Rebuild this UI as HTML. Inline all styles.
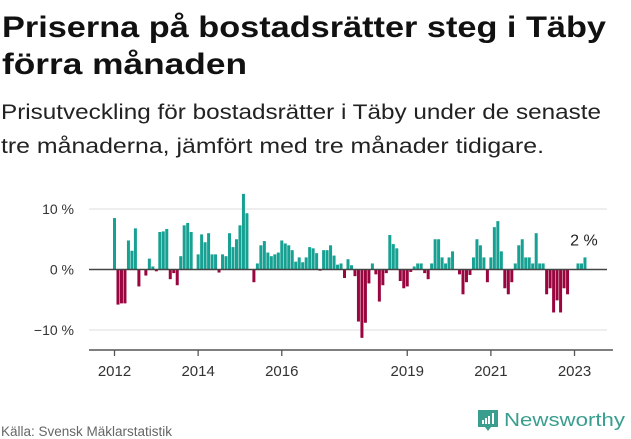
<!DOCTYPE html>
<html><head><meta charset="utf-8"><style>
html,body{margin:0;padding:0;background:#fff;width:631px;height:439px;overflow:hidden}
svg{display:block;font-family:"Liberation Sans","DejaVu Sans",sans-serif}
</style></head><body>
<svg id="chart" width="631" height="439" viewBox="0 0 631 439">
<text x="2" y="37" font-size="30" font-weight="bold" fill="#111" textLength="604" lengthAdjust="spacingAndGlyphs">Priserna på bostadsrätter steg i Täby</text>
<text x="2" y="74" font-size="30" font-weight="bold" fill="#111" textLength="245" lengthAdjust="spacingAndGlyphs">förra månaden</text>
<text x="1" y="119" font-size="21" fill="#222" textLength="600" lengthAdjust="spacingAndGlyphs">Prisutveckling för bostadsrätter i Täby under de senaste</text>
<text x="1" y="153" font-size="21" fill="#222" textLength="543" lengthAdjust="spacingAndGlyphs">tre månaderna, jämfört med tre månader tidigare.</text>
<g id="grid"></g>
<g id="bars"></g>
<g id="axis"></g>
<text x="1" y="436" font-size="13.5" fill="#666">Källa: Svensk Mäklarstatistik</text>
<g>
<path d="M478 410 h20 v17 h-7 l-3 4 l-3 -4 h-7 z" fill="#3a9e8f"/>
<rect x="482" y="420" width="2" height="4" fill="#fff"/><rect x="485" y="418" width="2" height="6" fill="#fff"/><rect x="488" y="416" width="2" height="8" fill="#fff"/><rect x="492" y="413" width="2" height="11" fill="#fff"/>
<text x="504" y="426" font-size="18" fill="#3a9e8f" textLength="121" lengthAdjust="spacingAndGlyphs">Newsworthy</text>
</g>
</svg>
<script>
const values = [8.5,-5.8,-5.6,-5.6,4.8,3.1,6.8,-2.8,0,-1.0,1.8,0.5,-0.3,6.2,6.3,6.7,-1.6,-0.6,-2.6,2.2,7.3,7.7,6.2,0,2.5,5.8,4.5,6,2.5,2.5,-0.5,2.5,2.2,6,3.7,5,7.3,12.5,9.3,0,-2.1,1,4,4.7,2.8,2.2,2.5,2.8,4.8,4.3,4,3.2,1.3,2,1.2,2,3.7,3.5,2.7,-0.2,3.2,3.2,4,2.3,0.8,1,-1.4,1.7,0.7,-1.1,-8.6,-11.3,-8.8,-2.3,1,-0.8,-5.3,-2.6,-0.6,5.7,4.2,3.5,-1.9,-3.1,-2.8,-0.4,0.5,1,1,-0.6,-1.6,1,5,5,2,1,2,3,0,-0.8,-4.1,-2.1,-0.9,2,5,4,2,-2.1,2,7,8,3,-3.1,-4.1,-2.1,1,4,5,2,2,1,6,1,1,-4.1,-3.1,-7.1,-5.1,-7.1,-3.1,-4.1,0,0,1,1,2];
const startYear = 2012;
const yTicks = [10,0,-10];
const yTickLabels = ["10 %","0 %","\u221210 %"];
const xTickYears = [2012,2014,2016,2019,2021,2023];
const lastLabel = "2 %";

const NS="http://www.w3.org/2000/svg";
const x0=114.5, step=3.485;
function xScale(i){return x0+i*step;}
function yScale(v){return 269.5-v*6.05;}
function mk(tag,attrs,parent){const e=document.createElementNS(NS,tag);for(const k in attrs)e.setAttribute(k,attrs[k]);parent.appendChild(e);return e;}
const grid=document.getElementById('grid'),bars=document.getElementById('bars'),axis=document.getElementById('axis');
yTicks.forEach((t,k)=>{
  if(t!==0){const l=mk('line',{x1:89,x2:607,y1:yScale(t),y2:yScale(t),stroke:'#e3e3e3','stroke-width':1.3},grid);
  
  }
  const tx=mk('text',{x:74,y:yScale(t)+5,'font-size':14,fill:'#333','text-anchor':'end'},grid);
  tx.textContent=yTickLabels[k];
  
  
});
values.forEach((v,i)=>{
  const y=Math.min(yScale(v),yScale(0)),h=Math.abs(yScale(v)-yScale(0));
  const r=mk('rect',{x:xScale(i)-1.5,y:y,width:3,height:Math.max(h,0),fill:v>=0?'#17a193':'#99063f'},bars);
  
  
});
const zl=mk('line',{x1:89,x2:607,y1:yScale(0),y2:yScale(0),stroke:'#444','stroke-width':1.5},axis);


const al=mk('line',{x1:89,x2:613,y1:350,y2:350,stroke:'#555','stroke-width':1.5},axis);


xTickYears.forEach(yr=>{
  const x=xScale((yr-startYear)*12);
  const tk=mk('line',{x1:x,x2:x,y1:350,y2:356,stroke:'#555','stroke-width':1.3},axis);
  
  
  const t=mk('text',{x:x,y:376,'font-size':15,fill:'#333','text-anchor':'middle'},axis);
  t.textContent=String(yr);
  
  
});
const ll=mk('text',{x:xScale(values.length-1)-1,y:yScale(values[values.length-1])-12,'font-size':16,fill:'#222','text-anchor':'middle'},axis);
ll.textContent=lastLabel;


</script>
</body></html>
